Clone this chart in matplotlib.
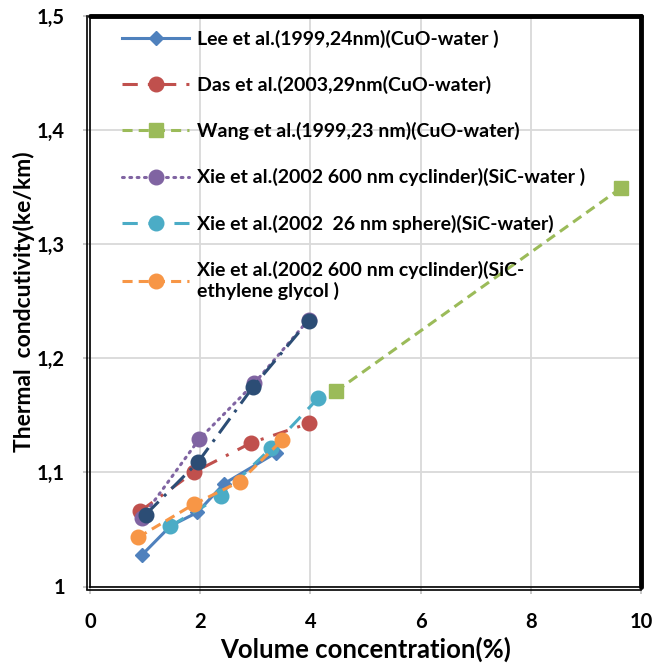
import matplotlib
matplotlib.use("Agg")
import matplotlib.pyplot as plt
from matplotlib.lines import Line2D
import matplotlib.transforms as mtransforms

plt.rcParams['font.family'] = ['Lato', 'DejaVu Sans']
plt.rcParams['font.weight'] = 'bold'

# ---- data ----
lee_x = [0.95, 1.46, 1.95, 2.43, 3.37]
lee_y = [1.028, 1.053, 1.065, 1.090, 1.117]

das_x = [0.91, 1.88, 2.93, 3.97]
das_y = [1.066, 1.100, 1.126, 1.143]

wang_x = [4.46, 9.63]
wang_y = [1.171, 1.349]

xie_cyl_x = [0.94, 1.98, 2.98, 3.97]
xie_cyl_y = [1.060, 1.129, 1.178, 1.234]

xie_sph_x = [1.46, 2.37, 3.28, 4.14]
xie_sph_y = [1.053, 1.079, 1.121, 1.165]

xie_eg_x = [0.87, 1.88, 2.72, 3.48]
xie_eg_y = [1.043, 1.072, 1.092, 1.128]

extra_x = [1.01, 1.96, 2.96, 3.97]
extra_y = [1.063, 1.109, 1.175, 1.233]

labels = [
    "Lee et al.(1999,24nm)(CuO-water )",
    "Das et al.(2003,29nm(CuO-water)",
    "Wang et al.(1999,23 nm)(CuO-water)",
    "Xie et al.(2002 600 nm cyclinder)(SiC-water )",
    "Xie et al.(2002  26 nm sphere)(SiC-water)",
    "Xie et al.(2002 600 nm cyclinder)(SiC-\nethylene glycol )",
]
x_ticks = [0, 2, 4, 6, 8, 10]
y_ticks = [1.0, 1.1, 1.2, 1.3, 1.4, 1.5]
y_ticklabels = ["1", "1,1", "1,2", "1,3", "1,4", "1,5"]

fig = plt.figure(figsize=(6.66, 6.63), dpi=100)
ax = fig.add_axes([90/666, 1-586.5/663, 551/666, 570.5/663])

lw = 2.2
ax.plot(lee_x, lee_y, color='#4F81BD', lw=lw, marker='D', ms=7.5, label=labels[0], zorder=3)
ax.plot(das_x, das_y, color='#C0504D', lw=lw, marker='o', ms=10.5, dashes=(5, 3.3, 1, 3.3),
        dash_capstyle='butt', label=labels[1], zorder=3)
ax.plot(wang_x, wang_y, color='#9BBB59', lw=lw, marker='s', ms=9.5, dashes=(3.3, 2),
        label=labels[2], zorder=3)
ax.plot(xie_cyl_x, xie_cyl_y, color='#8064A2', lw=lw, marker='o', ms=10.5, dashes=(0.6, 1.8),
        dash_capstyle='round', label=labels[3], zorder=3)
ax.plot(xie_sph_x, xie_sph_y, color='#4BACC6', lw=lw, marker='o', ms=10.5, dashes=(5, 3.5),
        label=labels[4], zorder=3)
ax.plot(xie_eg_x, xie_eg_y, color='#F79646', lw=lw, marker='o', ms=10.5, dashes=(3.3, 2),
        label=labels[5], zorder=3)
ax.plot(extra_x, extra_y, color='#2C4D75', lw=lw, marker='o', ms=10.5, dashes=(6, 2.5, 1, 2.5),
        zorder=4)

ax.set_xlim(0, 10)
ax.set_ylim(1.0, 1.5)
ax.set_xticks(x_ticks)
ax.set_xticklabels([str(v) for v in x_ticks])
ax.set_yticks(y_ticks)
ax.set_yticklabels(y_ticklabels)
ax.grid(True, color='#D9D9D9', lw=1.3)
ax.set_axisbelow(True)
ax.tick_params(axis='both', length=5, width=1.2, color='#BFBFBF', labelsize=14.5, pad=13)
for t in ax.get_xticklabels() + ax.get_yticklabels():
    t.set_fontweight('bold')

ax.set_xlabel("Volume concentration(%)", fontsize=18.5, fontweight='bold', labelpad=4)
ax.set_ylabel("Thermal  condcutivity(ke/km)", fontsize=16.5, fontweight='bold')

for s in ['left', 'bottom']:
    ax.spines[s].set_linewidth(1.2)
for s in ['top', 'right']:
    ax.spines[s].set_linewidth(3.5)
    ax.spines[s].set_capstyle('round')

# double line effect on left/bottom
off_l = mtransforms.offset_copy(ax.transAxes, fig=fig, x=-3, y=0, units='dots')
off_b = mtransforms.offset_copy(ax.transAxes, fig=fig, x=0, y=-3, units='dots')
ax.add_line(Line2D([0, 0], [-0.005, 1.0], transform=off_l, color='black', lw=1.2, clip_on=False))
ax.add_line(Line2D([-0.005, 1.0], [0, 0], transform=off_b, color='black', lw=1.2, clip_on=False))

leg = ax.legend(loc='upper left', bbox_to_anchor=(0.044, 0.99), frameon=False,
                fontsize=14.0, handlelength=3.45, handletextpad=0.4, labelspacing=1.45,
                borderaxespad=0)
for t in leg.get_texts():
    t.set_fontweight('bold')

ax.yaxis.set_label_coords(-0.10, 0.5)

fig.savefig("out.png", dpi=100)
